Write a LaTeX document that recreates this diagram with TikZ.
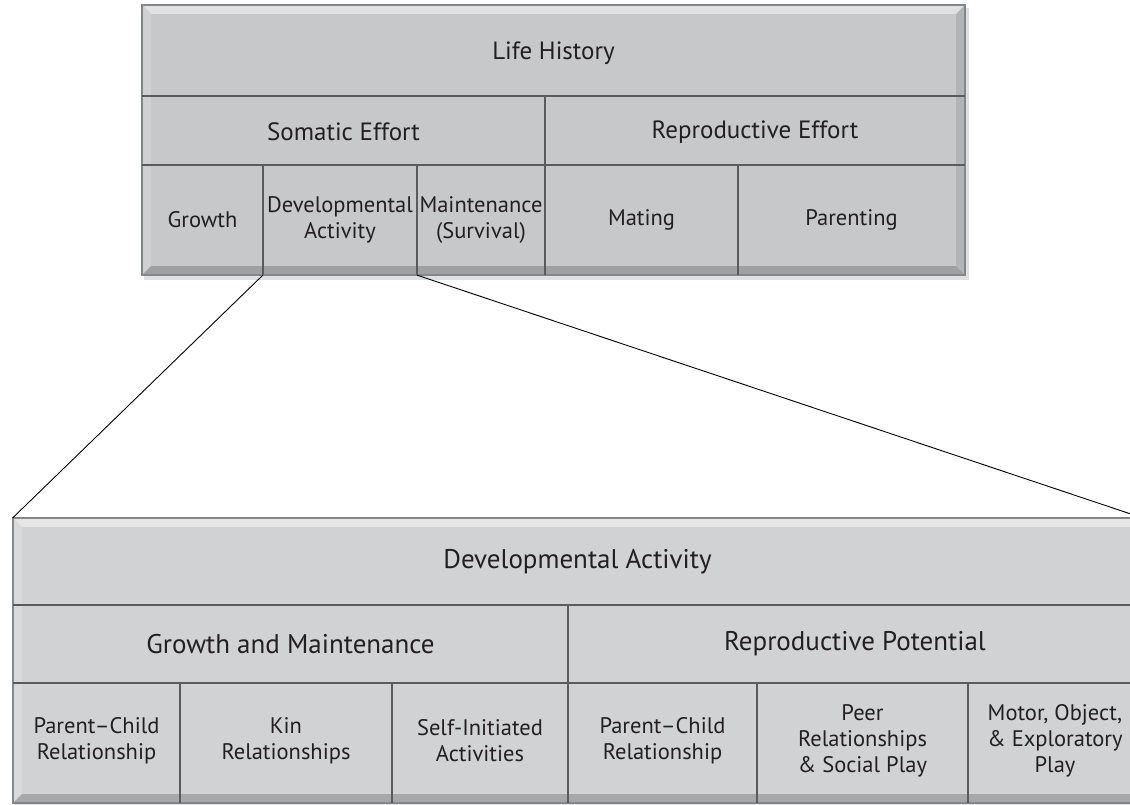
\documentclass[tikz,border=0pt]{standalone}
\usepackage{fontspec}
\setmainfont{PT Sans}
\definecolor{topfill}{HTML}{C7C8CA}
\definecolor{botfill}{HTML}{D1D2D4}
\definecolor{rule}{HTML}{5A5B5D}
\definecolor{rim}{HTML}{858688}
\definecolor{ink}{HTML}{231F20}

\tikzset{
  cell/.style={inner sep=0pt, align=center, text=ink, font=\fontsize{22.5}{26}\selectfont},
  head/.style={cell, font=\fontsize{25}{30}\selectfont},
  bighead/.style={cell, font=\fontsize{27}{32}\selectfont},
  divider/.style={draw=rule, line width=1.7pt},
  link/.style={draw=black, line width=0.9pt},
}

% bevelled panel: #1,#2 upper-left corner, #3,#4 lower-right corner, #5 fill colour
\newcommand\bevelpanel[5]{%
  \fill[black!12] (#1+2,#2+3) rectangle (#3+4,#4+5);
  \fill[#5] (#1,#2) rectangle (#3,#4);
  \fill[#5!55!white] (#1,#2) -- (#3,#2) -- (#3-9,#2+9) -- (#1+9,#2+9) -- cycle;
  \fill[#5!85!white] (#1,#2) -- (#1+9,#2+9) -- (#1+9,#4-9) -- (#1,#4) -- cycle;
  \fill[#5!80!black] (#1,#4) -- (#1+9,#4-9) -- (#3-9,#4-9) -- (#3,#4) -- cycle;
  \fill[#5!90!black] (#3,#2) -- (#3-9,#2+9) -- (#3-9,#4-9) -- (#3,#4) -- cycle;
  \fill[#5] (#1+9,#2+9) rectangle (#3-9,#4-9);
  \draw[rim, line width=1.4pt] (#1,#2) rectangle (#3,#4);
}

\begin{document}
\begin{tikzpicture}[x=1pt, y=-1pt]
\useasboundingbox (0,0) rectangle (1130,805);
\clip (0,0) rectangle (1130,805);
\fill[white] (0,0) rectangle (1130,805);

% ---------- upper table: life history ----------
\bevelpanel{142}{5}{965}{275}{topfill}
\draw[divider] (142,96) -- (965,96);
\draw[divider] (142,165) -- (965,165);
\draw[divider] (545,96) -- (545,275);
\draw[divider] (263,165) -- (263,275);
\draw[divider] (417,165) -- (417,275);
\draw[divider] (738,165) -- (738,275);

\node[head, minimum width=823pt, minimum height=91pt] (life) at (553.5,53) {Life History};
\node[head, minimum width=403pt, minimum height=69pt] (soma) at (343.5,132) {Somatic Effort};
\node[head, minimum width=420pt, minimum height=69pt] (repro) at (755,132) {Reproductive Effort};
\node[cell, minimum width=121pt, minimum height=110pt] (growth) at (202.5,220) {Growth};
\node[cell, minimum width=154pt, minimum height=110pt] (tdev) at (340,220) {Developmental\\Activity};
\node[cell, minimum width=128pt, minimum height=110pt] (maint) at (481,220) {Maintenance\\(Survival)};
\node[cell, minimum width=193pt, minimum height=110pt] (mating) at (641.5,220) {Mating};
\node[cell, minimum width=227pt, minimum height=110pt] (parent) at (851.5,220) {Parenting};

% ---------- lower table: developmental activity ----------
\bevelpanel{13}{518}{1142}{803}{botfill}
\draw[divider] (13,605) -- (1142,605);
\draw[divider] (13,683) -- (1142,683);
\draw[divider] (568,605) -- (568,803);
\draw[divider] (180,683) -- (180,803);
\draw[divider] (392,683) -- (392,803);
\draw[divider] (757,683) -- (757,803);
\draw[divider] (968,683) -- (968,803);

\node[bighead, minimum width=1129pt, minimum height=87pt] (bdev) at (577.5,561.5) {Developmental Activity};
\node[bighead, minimum width=555pt, minimum height=78pt] (gm) at (290.5,644) {Growth and Maintenance};
\node[bighead, minimum width=574pt, minimum height=78pt] (rp) at (855,644) {Reproductive Potential};
\node[cell, minimum width=167pt, minimum height=120pt] (pc1) at (96.5,741) {Parent–Child\\Relationship};
\node[cell, minimum width=212pt, minimum height=120pt] (kin) at (286,741) {Kin\\Relationships};
\node[cell, minimum width=176pt, minimum height=120pt] (self) at (480,741) {Self-Initiated\\Activities};
\node[cell, minimum width=189pt, minimum height=120pt] (pc2) at (662.5,741) {Parent–Child\\Relationship};
\node[cell, minimum width=211pt, minimum height=120pt] (peer) at (862.5,741) {Peer\\Relationships\\\& Social Play};
\node[cell, minimum width=174pt, minimum height=120pt] (motor) at (1055,741) {Motor, Object,\\\& Exploratory\\Play};

% ---------- zoom lines from the upper cell to the lower table ----------
\draw[link] (tdev.south west) -- (bdev.north west);
\draw[link] (tdev.south east) -- (bdev.north east);
\end{tikzpicture}
\end{document}
